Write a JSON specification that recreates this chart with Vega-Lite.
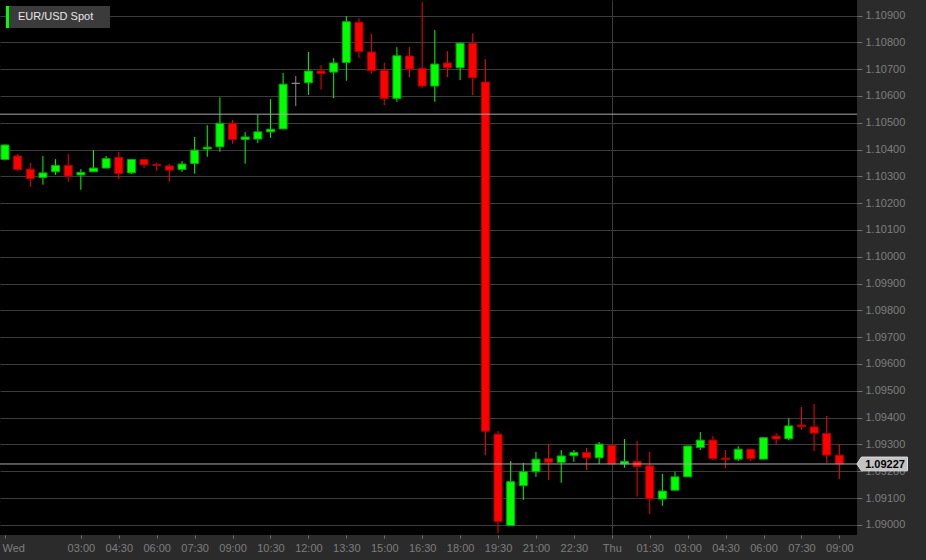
{
  "$schema": "https://vega.github.io/schema/vega-lite/v6.json",
  "width": 857,
  "height": 535,
  "autosize": {"type": "none"},
  "padding": {"left": 0, "top": 0, "right": 69, "bottom": 25},
  "background": "#2b2b2b",
  "view": {"fill": "#000000", "stroke": null},
  "config": {
    "view": {"fill": "#000000", "stroke": null},
    "font": "Liberation Sans"
  },
  "datasets": {
    "candles": [
      {"t": "2015-10-28T00:00:00Z", "o": 1.10363, "h": 1.10420, "l": 1.10360, "c": 1.10417},
      {"t": "2015-10-28T00:30:00Z", "o": 1.10376, "h": 1.10383, "l": 1.10321, "c": 1.10326},
      {"t": "2015-10-28T01:00:00Z", "o": 1.10327, "h": 1.10350, "l": 1.10261, "c": 1.10292},
      {"t": "2015-10-28T01:30:00Z", "o": 1.10296, "h": 1.10376, "l": 1.10269, "c": 1.10313},
      {"t": "2015-10-28T02:00:00Z", "o": 1.10317, "h": 1.10364, "l": 1.10306, "c": 1.10341},
      {"t": "2015-10-28T02:30:00Z", "o": 1.10341, "h": 1.10383, "l": 1.10280, "c": 1.10301},
      {"t": "2015-10-28T03:00:00Z", "o": 1.10305, "h": 1.10327, "l": 1.10250, "c": 1.10315},
      {"t": "2015-10-28T03:30:00Z", "o": 1.10317, "h": 1.10398, "l": 1.10316, "c": 1.10331},
      {"t": "2015-10-28T04:00:00Z", "o": 1.10331, "h": 1.10376, "l": 1.10330, "c": 1.10366},
      {"t": "2015-10-28T04:30:00Z", "o": 1.10371, "h": 1.10391, "l": 1.10290, "c": 1.10311},
      {"t": "2015-10-28T05:00:00Z", "o": 1.10313, "h": 1.10365, "l": 1.10309, "c": 1.10363},
      {"t": "2015-10-28T05:30:00Z", "o": 1.10363, "h": 1.10364, "l": 1.10332, "c": 1.10343},
      {"t": "2015-10-28T06:00:00Z", "o": 1.10345, "h": 1.10351, "l": 1.10321, "c": 1.10341},
      {"t": "2015-10-28T06:30:00Z", "o": 1.10339, "h": 1.10346, "l": 1.10280, "c": 1.10323},
      {"t": "2015-10-28T07:00:00Z", "o": 1.10326, "h": 1.10357, "l": 1.10317, "c": 1.10346},
      {"t": "2015-10-28T07:30:00Z", "o": 1.10348, "h": 1.10447, "l": 1.10310, "c": 1.10398},
      {"t": "2015-10-28T08:00:00Z", "o": 1.10402, "h": 1.10491, "l": 1.10373, "c": 1.10409},
      {"t": "2015-10-28T08:30:00Z", "o": 1.10410, "h": 1.10595, "l": 1.10392, "c": 1.10498},
      {"t": "2015-10-28T09:00:00Z", "o": 1.10498, "h": 1.10510, "l": 1.10422, "c": 1.10438},
      {"t": "2015-10-28T09:30:00Z", "o": 1.10438, "h": 1.10465, "l": 1.10347, "c": 1.10447},
      {"t": "2015-10-28T10:00:00Z", "o": 1.10439, "h": 1.10530, "l": 1.10424, "c": 1.10466},
      {"t": "2015-10-28T10:30:00Z", "o": 1.10466, "h": 1.10588, "l": 1.10444, "c": 1.10476},
      {"t": "2015-10-28T11:00:00Z", "o": 1.10477, "h": 1.10686, "l": 1.10476, "c": 1.10644},
      {"t": "2015-10-28T11:30:00Z", "o": 1.10647, "h": 1.10674, "l": 1.10562, "c": 1.10647},
      {"t": "2015-10-28T12:00:00Z", "o": 1.10649, "h": 1.10764, "l": 1.10604, "c": 1.10693},
      {"t": "2015-10-28T12:30:00Z", "o": 1.10693, "h": 1.10715, "l": 1.10623, "c": 1.10684},
      {"t": "2015-10-28T13:00:00Z", "o": 1.10689, "h": 1.10741, "l": 1.10592, "c": 1.10723},
      {"t": "2015-10-28T13:30:00Z", "o": 1.10725, "h": 1.10898, "l": 1.10657, "c": 1.10877},
      {"t": "2015-10-28T14:00:00Z", "o": 1.10875, "h": 1.10890, "l": 1.10742, "c": 1.10766},
      {"t": "2015-10-28T14:30:00Z", "o": 1.10764, "h": 1.10831, "l": 1.10683, "c": 1.10694},
      {"t": "2015-10-28T15:00:00Z", "o": 1.10695, "h": 1.10724, "l": 1.10566, "c": 1.10591},
      {"t": "2015-10-28T15:30:00Z", "o": 1.10591, "h": 1.10782, "l": 1.10578, "c": 1.10750},
      {"t": "2015-10-28T16:00:00Z", "o": 1.10749, "h": 1.10782, "l": 1.10670, "c": 1.10700},
      {"t": "2015-10-28T16:30:00Z", "o": 1.10703, "h": 1.10950, "l": 1.10629, "c": 1.10637},
      {"t": "2015-10-28T17:00:00Z", "o": 1.10637, "h": 1.10846, "l": 1.10578, "c": 1.10719},
      {"t": "2015-10-28T17:30:00Z", "o": 1.10723, "h": 1.10767, "l": 1.10670, "c": 1.10705},
      {"t": "2015-10-28T18:00:00Z", "o": 1.10705, "h": 1.10799, "l": 1.10659, "c": 1.10797},
      {"t": "2015-10-28T18:30:00Z", "o": 1.10797, "h": 1.10834, "l": 1.10603, "c": 1.10668},
      {"t": "2015-10-28T19:00:00Z", "o": 1.10652, "h": 1.10737, "l": 1.09260, "c": 1.09349},
      {"t": "2015-10-28T19:30:00Z", "o": 1.09338, "h": 1.09349, "l": 1.08968, "c": 1.09012},
      {"t": "2015-10-28T20:00:00Z", "o": 1.08997, "h": 1.09238, "l": 1.08996, "c": 1.09161},
      {"t": "2015-10-28T20:30:00Z", "o": 1.09146, "h": 1.09231, "l": 1.09093, "c": 1.09198},
      {"t": "2015-10-28T21:00:00Z", "o": 1.09198, "h": 1.09272, "l": 1.09179, "c": 1.09245},
      {"t": "2015-10-28T21:30:00Z", "o": 1.09247, "h": 1.09301, "l": 1.09167, "c": 1.09233},
      {"t": "2015-10-28T22:00:00Z", "o": 1.09233, "h": 1.09279, "l": 1.09157, "c": 1.09257},
      {"t": "2015-10-28T22:30:00Z", "o": 1.09258, "h": 1.09279, "l": 1.09235, "c": 1.09270},
      {"t": "2015-10-28T23:00:00Z", "o": 1.09270, "h": 1.09287, "l": 1.09204, "c": 1.09250},
      {"t": "2015-10-28T23:30:00Z", "o": 1.09250, "h": 1.09309, "l": 1.09227, "c": 1.09301},
      {"t": "2015-10-29T00:00:00Z", "o": 1.09297, "h": 1.09298, "l": 1.09226, "c": 1.09227},
      {"t": "2015-10-29T00:30:00Z", "o": 1.09227, "h": 1.09320, "l": 1.09213, "c": 1.09237},
      {"t": "2015-10-29T01:00:00Z", "o": 1.09237, "h": 1.09313, "l": 1.09105, "c": 1.09217},
      {"t": "2015-10-29T01:30:00Z", "o": 1.09220, "h": 1.09272, "l": 1.09040, "c": 1.09097},
      {"t": "2015-10-29T02:00:00Z", "o": 1.09096, "h": 1.09190, "l": 1.09071, "c": 1.09126},
      {"t": "2015-10-29T02:30:00Z", "o": 1.09129, "h": 1.09198, "l": 1.09128, "c": 1.09179},
      {"t": "2015-10-29T03:00:00Z", "o": 1.09179, "h": 1.09295, "l": 1.09179, "c": 1.09294},
      {"t": "2015-10-29T03:30:00Z", "o": 1.09288, "h": 1.09346, "l": 1.09279, "c": 1.09316},
      {"t": "2015-10-29T04:00:00Z", "o": 1.09316, "h": 1.09331, "l": 1.09241, "c": 1.09247},
      {"t": "2015-10-29T04:30:00Z", "o": 1.09249, "h": 1.09279, "l": 1.09212, "c": 1.09244},
      {"t": "2015-10-29T05:00:00Z", "o": 1.09245, "h": 1.09293, "l": 1.09238, "c": 1.09282},
      {"t": "2015-10-29T05:30:00Z", "o": 1.09282, "h": 1.09283, "l": 1.09238, "c": 1.09247},
      {"t": "2015-10-29T06:00:00Z", "o": 1.09245, "h": 1.09326, "l": 1.09245, "c": 1.09325},
      {"t": "2015-10-29T06:30:00Z", "o": 1.09331, "h": 1.09342, "l": 1.09301, "c": 1.09320},
      {"t": "2015-10-29T07:00:00Z", "o": 1.09321, "h": 1.09398, "l": 1.09316, "c": 1.09369},
      {"t": "2015-10-29T07:30:00Z", "o": 1.09372, "h": 1.09439, "l": 1.09354, "c": 1.09366},
      {"t": "2015-10-29T08:00:00Z", "o": 1.09365, "h": 1.09451, "l": 1.09275, "c": 1.09342},
      {"t": "2015-10-29T08:30:00Z", "o": 1.09341, "h": 1.09406, "l": 1.09231, "c": 1.09260},
      {"t": "2015-10-29T09:00:00Z", "o": 1.09260, "h": 1.09301, "l": 1.09171, "c": 1.09227}
    ],
    "levels": [
      {"kind": "previous close", "level": 1.10532},
      {"kind": "last", "level": 1.09227}
    ],
    "last": [
      {"price": 1.09227}
    ],
    "series": [
      {"series": "EUR/USD Spot"}
    ]
  },
  "layer": [
    {
      "data": {"name": "candles"},
      "mark": {"type": "rule", "strokeWidth": 1, "clip": true},
      "encoding": {
        "x": {
          "field": "t", "type": "temporal",
          "scale": {"type": "utc", "domain": [
            {"year": 2015, "month": 10, "date": 28, "hours": 0, "utc": true},
            {"year": 2015, "month": 10, "date": 29, "hours": 9, "minutes": 30, "utc": true}
          ]},
          "axis": {
            "title": null,
            "orient": "bottom",
            "domain": false,
            "tickCount": 40,
            "values": [
              {"year": 2015, "month": 10, "date": 28, "hours": 0, "utc": true},
              {"year": 2015, "month": 10, "date": 28, "hours": 3, "utc": true},
              {"year": 2015, "month": 10, "date": 28, "hours": 4, "minutes": 30, "utc": true},
              {"year": 2015, "month": 10, "date": 28, "hours": 6, "utc": true},
              {"year": 2015, "month": 10, "date": 28, "hours": 7, "minutes": 30, "utc": true},
              {"year": 2015, "month": 10, "date": 28, "hours": 9, "utc": true},
              {"year": 2015, "month": 10, "date": 28, "hours": 10, "minutes": 30, "utc": true},
              {"year": 2015, "month": 10, "date": 28, "hours": 12, "utc": true},
              {"year": 2015, "month": 10, "date": 28, "hours": 13, "minutes": 30, "utc": true},
              {"year": 2015, "month": 10, "date": 28, "hours": 15, "utc": true},
              {"year": 2015, "month": 10, "date": 28, "hours": 16, "minutes": 30, "utc": true},
              {"year": 2015, "month": 10, "date": 28, "hours": 18, "utc": true},
              {"year": 2015, "month": 10, "date": 28, "hours": 19, "minutes": 30, "utc": true},
              {"year": 2015, "month": 10, "date": 28, "hours": 21, "utc": true},
              {"year": 2015, "month": 10, "date": 28, "hours": 22, "minutes": 30, "utc": true},
              {"year": 2015, "month": 10, "date": 29, "hours": 0, "utc": true},
              {"year": 2015, "month": 10, "date": 29, "hours": 1, "minutes": 30, "utc": true},
              {"year": 2015, "month": 10, "date": 29, "hours": 3, "utc": true},
              {"year": 2015, "month": 10, "date": 29, "hours": 4, "minutes": 30, "utc": true},
              {"year": 2015, "month": 10, "date": 29, "hours": 6, "utc": true},
              {"year": 2015, "month": 10, "date": 29, "hours": 7, "minutes": 30, "utc": true},
              {"year": 2015, "month": 10, "date": 29, "hours": 9, "utc": true}
            ],
            "labelExpr": "(utchours(datum.value) == 0 && utcminutes(datum.value) == 0) ? utcFormat(datum.value, '%a') : utcFormat(datum.value, '%H:%M')",
            "labelFlush": false,
            "labelAlign": {"condition": {"test": "utcdate(datum.value) == 28 && utchours(datum.value) == 0", "value": "left"}, "value": "center"},
            "labelOffset": {"condition": {"test": "utcdate(datum.value) == 28 && utchours(datum.value) == 0", "value": -3}, "value": 0},
            "labelOverlap": false,
            "labelBound": false,
            "labelFont": "Liberation Sans",
            "labelFontSize": 11,
            "labelColor": "#7e7e7e",
            "labelPadding": 4,
            "tickSize": 3,
            "tickColor": "#707070",
            "grid": true,
            "gridColor": "#3c3c3c",
            "gridOpacity": {"condition": {"test": "utcdate(datum.value) == 29 && utchours(datum.value) == 0", "value": 1}, "value": 0}
          }
        },
        "y": {
          "field": "l", "type": "quantitative",
          "scale": {"domain": [1.08962, 1.10958], "zero": false, "nice": false},
          "axis": {
            "title": null,
            "orient": "right",
            "domain": false,
            "tickCount": 40,
            "values": [1.090, 1.091, 1.092, 1.093, 1.094, 1.095, 1.096, 1.097, 1.098, 1.099, 1.100, 1.101, 1.102, 1.103, 1.104, 1.105, 1.106, 1.107, 1.108, 1.109],
            "format": ".5f",
            "labelOverlap": false,
            "labelFlush": false,
            "labelBound": false,
            "labelFont": "Liberation Sans",
            "labelFontSize": 11,
            "labelColor": "#7e7e7e",
            "labelPadding": 3,
            "tickSize": 5,
            "tickColor": "#707070",
            "grid": true,
            "gridColor": "#3c3c3c"
          }
        },
        "y2": {"field": "h"},
        "color": {
          "condition": [
            {"test": "datum.c > datum.o", "value": "#00ff00"},
            {"test": "datum.c < datum.o", "value": "#ff0000"}
          ],
          "value": "#8c8c8c"
        }
      }
    },
    {
      "data": {"name": "candles"},
      "mark": {"type": "bar", "size": 8, "strokeWidth": 1, "clip": true},
      "encoding": {
        "x": {"field": "t", "type": "temporal"},
        "y": {"field": "o", "type": "quantitative"},
        "y2": {"field": "c"},
        "fill": {
          "condition": [
            {"test": "datum.c > datum.o", "value": "#00ff00"},
            {"test": "datum.c < datum.o", "value": "#ff0000"}
          ],
          "value": "#8c8c8c"
        },
        "stroke": {
          "condition": [
            {"test": "datum.c > datum.o", "value": "#00a800"},
            {"test": "datum.c < datum.o", "value": "#a80000"}
          ],
          "value": "#8c8c8c"
        }
      }
    },
    {
      "data": {"name": "levels"},
      "mark": {"type": "rule", "color": "#a8a8a8", "strokeWidth": 1},
      "encoding": {
        "y": {"field": "level", "type": "quantitative"}
      }
    },
    {
      "data": {"name": "last"},
      "mark": {
        "type": "point",
        "shape": "M-1.2,0 L-1,-0.3 L1,-0.3 L1,0.3 L-1,0.3 Z",
        "size": 2116,
        "filled": true,
        "opacity": 1,
        "color": "#c3c3c3",
        "stroke": "#dddddd",
        "strokeWidth": 1,
        "x": {"expr": "width + 27.5"},
        "clip": false
      },
      "encoding": {
        "y": {"field": "price", "type": "quantitative"}
      }
    },
    {
      "data": {"name": "last"},
      "mark": {
        "type": "text",
        "font": "Liberation Sans",
        "fontSize": 11,
        "fontWeight": "bold",
        "color": "#000000",
        "align": "center",
        "baseline": "middle",
        "x": {"expr": "width + 28"},
        "dy": 1,
        "clip": false
      },
      "encoding": {
        "y": {"field": "price", "type": "quantitative"},
        "text": {"field": "price", "type": "quantitative", "format": ".5f"}
      }
    },
    {
      "data": {"name": "series"},
      "mark": {"type": "point", "filled": true, "opacity": 0},
      "encoding": {
        "color": {
          "field": "series", "type": "nominal",
          "scale": {"domain": ["EUR/USD Spot"], "range": ["#00ff00"]},
          "legend": {
            "title": null,
            "orient": "top-left",
            "offset": 6,
            "padding": 0,
            "fillColor": "#3b3b3b",
            "symbolType": "M-1,-1 L-0.73,-1 L-0.73,1 L-1,1 Z M8.45,0",
            "symbolSize": 484,
            "symbolOpacity": 1,
            "symbolStrokeWidth": 0,
            "labelOffset": -10,
            "labelFont": "Liberation Sans",
            "labelFontSize": 11,
            "labelColor": "#e6e6e6"
          }
        }
      }
    }
  ]
}
